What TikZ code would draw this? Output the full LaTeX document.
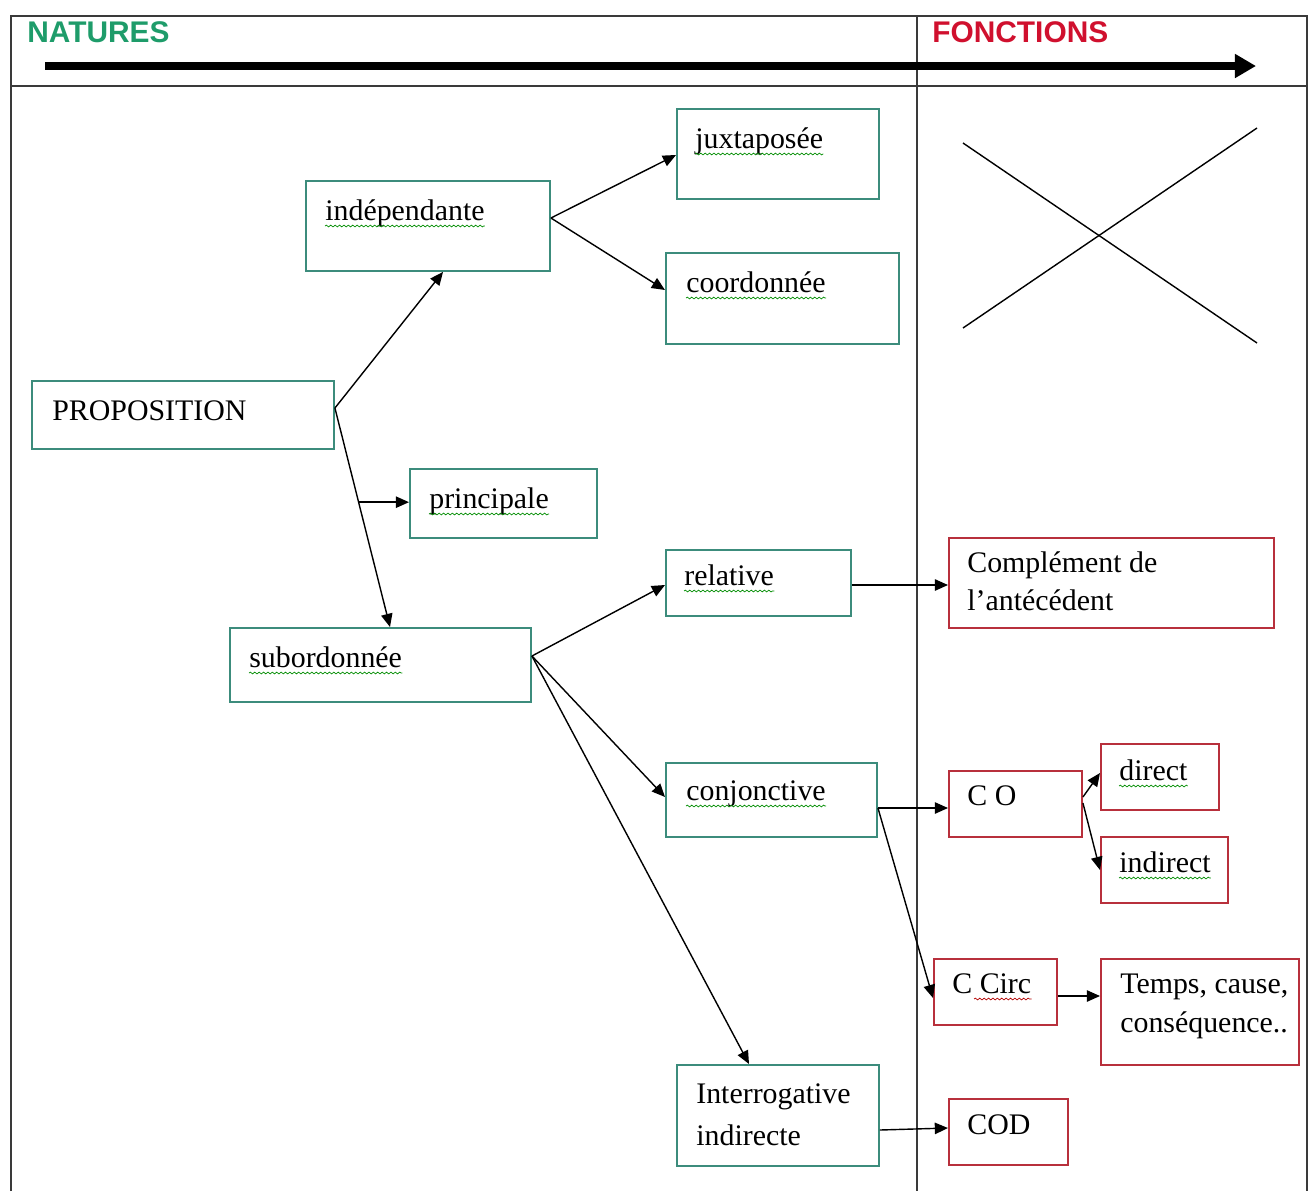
\documentclass[tikz,border=0pt]{standalone}
\usepackage{fontspec}
\setmainfont{Liberation Serif}
\newfontfamily\hdrfont{Liberation Sans}
\usetikzlibrary{arrows.meta,calc,decorations.pathmorphing}
\definecolor{natgreen}{HTML}{1E9C6A}
\definecolor{fonred}{HTML}{D0102E}
\definecolor{tealbox}{HTML}{3C8C7C}
\definecolor{redbox}{HTML}{B8303C}
\definecolor{framecol}{HTML}{3A3A3A}
\newcommand\bx[6]{\node[#1, minimum width={#5*0.02cm}, minimum height={#6*0.02cm}] (#2) at (#3,#4) {};}
\tikzset{
 natbox/.style={draw=tealbox, line width=1.1pt, rectangle, inner sep=0pt, anchor=north west},
 fonbox/.style={draw=redbox, line width=1.1pt, rectangle, inner sep=0pt, anchor=north west},
 txt/.style={font=\fontsize{17}{21}\selectfont, inner sep=0pt, anchor=base west},
 hdr/.style={font=\hdrfont\bfseries\fontsize{17}{20}\selectfont, inner sep=0pt, anchor=base west},
 conn/.style={line width=0.8pt, -{Triangle[length=7.5pt,width=6.5pt]}},
 wavy/.style={draw=green!55!black, line width=0.4pt, decorate, decoration={snake, amplitude=0.5pt, segment length=2.5pt}},
 wavyred/.style={wavy, draw=red!70!black},
}
\begin{document}
\begin{tikzpicture}[x=0.02cm,y=-0.02cm]
\useasboundingbox (0,0) rectangle (1315,1191);
% frame
\draw[framecol, line width=1.2pt] (11,1191) -- (11,16) -- (1307,16) -- (1307,1191);
\draw[framecol, line width=1.2pt] (11,86) -- (1307,86);
\draw[framecol, line width=1.2pt] (917,16) -- (917,1191);
% header
\node[hdr, text=natgreen] (nat) at (27,42) {NATURES};
\node[hdr, text=fonred] (fon) at (932,42) {FONCTIONS};
\coordinate (a0) at (45,66);
\coordinate (a1) at (1256,66);
\draw[line width=4.5pt, -{Triangle[length=12pt,width=13pt]}] (a0) -- (a1);
% cross
\draw[line width=0.8pt] (963,143) -- (1257,343);
\draw[line width=0.8pt] (963,328) -- (1257,128);
% boxes
\bx{natbox}{indep}{305}{180}{244}{90}
\bx{natbox}{juxt}{676}{108}{202}{90}
\bx{natbox}{coord}{665}{252}{233}{91}
\bx{natbox}{prop}{31}{380}{302}{68}
\bx{natbox}{princ}{409}{468}{187}{69}
\bx{natbox}{rel}{665}{549}{185}{66}
\bx{natbox}{sub}{229}{627}{301}{74}
\bx{natbox}{conj}{665}{762}{211}{74}
\bx{natbox}{inter}{676}{1064}{202}{101}
\bx{fonbox}{comp}{948}{537}{325}{90}
\bx{fonbox}{co}{948}{770}{133}{66}
\bx{fonbox}{dir}{1100}{743}{118}{66}
\bx{fonbox}{indir}{1100}{836}{127}{66}
\bx{fonbox}{circ}{933}{958}{123}{66}
\bx{fonbox}{temps}{1100}{958}{198}{106}
\bx{fonbox}{cod}{948}{1098}{119}{66}
% texts
\node[txt] (indepT) at (325,220) {indépendante};
\node[txt] (juxtT) at (695,148) {juxtaposée};
\node[txt] (coordT) at (686,292) {coordonnée};
\node[txt] (propT) at (52,420) {PROPOSITION};
\node[txt] (princT) at (429,508) {principale};
\node[txt] (relT) at (684,585) {relative};
\node[txt] (subT) at (249,667) {subordonnée};
\node[txt] (conjT) at (686,800) {conjonctive};
\node[txt] (interT1) at (696,1103) {Interrogative};
\node[txt] (interT2) at (696,1145) {indirecte};
\node[txt] (compT1) at (967,572) {Complément de};
\node[txt] (compT2) at (967,610) {l’antécédent};
\node[txt] (coT) at (967,805) {C O};
\node[txt] (dirT) at (1119,780) {direct};
\node[txt] (indirT) at (1119,872) {indirect};
\node[txt] (circT) at (952,993) {C Circ};
\node[txt] (tempsT1) at (1120,993) {Temps, cause,};
\node[txt] (tempsT2) at (1120,1032) {conséquence..};
\node[txt] (codT) at (967,1134) {COD};
% wavy underlines
\foreach \t in {indepT,juxtT,coordT,princT,relT,subT,conjT,dirT,indirT}
  \draw[wavy] ($(\t.base west)+(0,6)$) -- ($(\t.base east)+(0,6)$);
\draw[wavyred] ($(circT.base west)+(22,6)$) -- ($(circT.base east)+(0,6)$);
% connectors
\coordinate (p0) at ($(prop.north east)+(0,28)$);
\coordinate (s0) at ($(sub.north west)+(161,0)$);
\coordinate (pb) at ($(p0)!0.43!(s0)$);
\draw[conn] (p0) -- ($(indep.south west)+(138,0)$);
\draw[conn] (p0) -- (s0);
\draw[conn] (pb) -- (pb -| princ.west);
\coordinate (i0) at ($(indep.north east)+(0,38)$);
\draw[conn] (i0) -- ($(juxt.north west)+(0,47)$);
\draw[conn] (i0) -- ($(coord.north west)+(0,38)$);
\coordinate (b0) at ($(sub.north east)+(0,29)$);
\draw[conn] (b0) -- ($(rel.north west)+(0,36)$);
\draw[conn] (b0) -- ($(conj.north west)+(0,35)$);
\draw[conn] (b0) -- ($(inter.north west)+(73,0)$);
\coordinate (r0) at ($(rel.north east)+(0,36)$);
\draw[conn] (r0) -- (r0 -| comp.west);
\coordinate (c1) at ($(conj.north east)+(0,46)$);
\draw[conn] (c1) -- (c1 -| co.west);
\draw[conn] (c1) -- ($(circ.north west)+(0,40)$);
\draw[conn] ($(co.north east)+(0,27)$) -- ($(dir.north west)+(0,30)$);
\draw[conn] ($(co.north east)+(0,33)$) -- ($(indir.north west)+(0,34)$);
\coordinate (t0) at ($(circ.north east)+(0,38)$);
\draw[conn] (t0) -- (t0 -| temps.west);
\draw[conn] ($(inter.north east)+(0,66)$) -- ($(cod.north west)+(0,30)$);
\end{tikzpicture}
\end{document}
